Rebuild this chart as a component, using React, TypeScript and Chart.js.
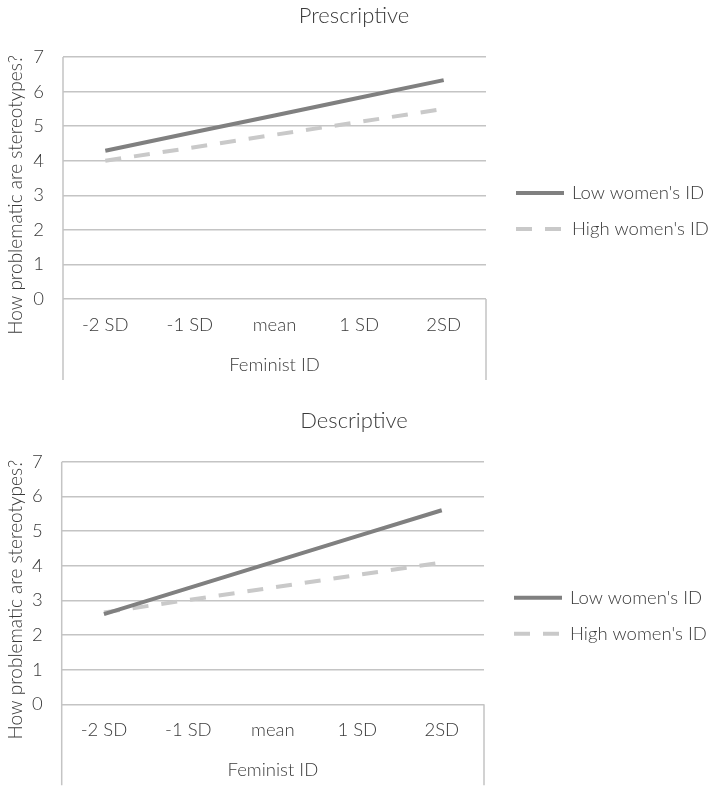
import React, { useEffect, useRef } from "react";
import { Chart, registerables } from "chart.js";

Chart.register(...registerables);

const categories = ["-2 SD", "-1 SD", "mean", "1 SD", "2SD"];
const seriesNames = ["Low women's ID", "High women's ID"];
const prescriptiveLow = [4.29, 4.8, 5.31, 5.82, 6.33];
const prescriptiveHigh = [4.0, 4.37, 4.75, 5.12, 5.5];
const descriptiveLow = [2.6, 3.35, 4.1, 4.85, 5.6];
const descriptiveHigh = [2.65, 3.01, 3.37, 3.73, 4.09];
const yMin = 0;
const yMax = 7;
const yStep = 1;
const xTitle = "Feminist ID";
const yTitle = "How problematic are stereotypes?";

const FONT = "Lato, 'DejaVu Sans', sans-serif";
const TEXT = "#3a3a3a";
const GRID = "#c4c4c4";
const LOW_COLOR = "#808080";
const HIGH_COLOR = "#c9c9c9";
const DASH = [16, 13];

const overlay = {
  id: "overlay",
  afterDraw(chart: any) {
    const o = chart.options.plugins.overlay;
    const { ctx, chartArea: a } = chart;
    ctx.save();
    ctx.strokeStyle = GRID;
    ctx.lineWidth = 1.5;
    ctx.setLineDash([]);
    ctx.beginPath();
    ctx.moveTo(a.left, a.top);
    ctx.lineTo(a.left, a.bottom + 81);
    ctx.moveTo(a.right, a.bottom);
    ctx.lineTo(a.right, a.bottom + 81);
    ctx.stroke();

    ctx.fillStyle = TEXT;
    ctx.textBaseline = "middle";
    ctx.textAlign = "center";
    ctx.font = `300 22px ${FONT}`;
    ctx.fillText(o.title, 354, a.top - 41);

    ctx.font = `300 18.5px ${FONT}`;
    ctx.fillText(xTitle, (a.left + a.right) / 2, a.bottom + 66);

    ctx.save();
    ctx.translate(16, a.top + 138);
    ctx.rotate(-Math.PI / 2);
    ctx.font = `300 19px ${FONT}`;
    ctx.fillText(yTitle, 0, 0);
    ctx.restore();

    // legend
    const ds = chart.data.datasets;
    const rows = [a.top + 136, a.top + 172];
    ds.forEach((d: any, i: number) => {
      const y = rows[i];
      ctx.strokeStyle = d.borderColor;
      ctx.lineWidth = 4;
      ctx.setLineDash(d.borderDash || []);
      ctx.beginPath();
      ctx.moveTo(a.right + 30, y);
      ctx.lineTo(a.right + 78, y);
      ctx.stroke();
      ctx.setLineDash([]);
      ctx.fillStyle = TEXT;
      ctx.textAlign = "left";
      ctx.font = `300 18.5px ${FONT}`;
      ctx.fillText(d.label, a.right + 86, y);
    });
    ctx.restore();
  },
};

function makeConfig(title: string, low: number[], high: number[], box: any): any {
  return {
    type: "line",
    data: {
      labels: categories,
      datasets: [
        {
          label: seriesNames[0],
          data: low,
          borderColor: LOW_COLOR,
          borderWidth: 4,
          pointRadius: 0,
          tension: 0,
          fill: false,
        },
        {
          label: seriesNames[1],
          data: high,
          borderColor: HIGH_COLOR,
          borderWidth: 4,
          borderDash: DASH,
          pointRadius: 0,
          tension: 0,
          fill: false,
        },
      ],
    },
    options: {
      responsive: false,
      animation: false,
      layout: { padding: { top: box.top, right: 714 - box.right, bottom: 0, left: 0 } },
      plugins: {
        legend: { display: false },
        title: { display: false },
        tooltip: { enabled: false },
        overlay: { title },
      },
      scales: {
        x: {
          type: "category",
          offset: true,
          grid: { display: false, drawTicks: false },
          border: { display: false },
          ticks: {
            color: TEXT,
            padding: 15,
            maxRotation: 0,
            autoSkip: false,
            font: { family: FONT, size: 18.5, weight: 300 },
          },
          afterFit: (s: any) => {
            s.height = 396 - box.bottom;
          },
        },
        y: {
          min: yMin,
          max: yMax,
          grid: { color: GRID, lineWidth: 1.5, drawTicks: false },
          border: { display: false },
          ticks: {
            stepSize: yStep,
            color: TEXT,
            padding: 19,
            font: { family: FONT, size: 18.5, weight: 300 },
          },
          afterFit: (s: any) => {
            s.width = box.left;
          },
        },
      },
    },
    plugins: [overlay],
  };
}

function ChartBox({ title, low, high, box, top }: any) {
  const ref = useRef<HTMLCanvasElement | null>(null);
  useEffect(() => {
    if (!ref.current) return;
    const c = new Chart(ref.current, makeConfig(title, low, high, box));
    return () => c.destroy();
  }, []);
  return (
    <canvas
      ref={ref}
      width={714}
      height={396}
      style={{ position: "absolute", left: 0, top, width: 714, height: 396 }}
    />
  );
}

export default function App() {
  return (
    <div style={{ position: "absolute", left: 0, top: 0, width: 714, height: 792, background: "#fff" }}>
      <ChartBox
        title="Prescriptive"
        low={prescriptiveLow}
        high={prescriptiveHigh}
        box={{ top: 57, bottom: 299, left: 63, right: 486 }}
        top={0}
      />
      <ChartBox
        title="Descriptive"
        low={descriptiveLow}
        high={descriptiveHigh}
        box={{ top: 65.7, bottom: 308.3, left: 61.7, right: 484 }}
        top={396}
      />
    </div>
  );
}
